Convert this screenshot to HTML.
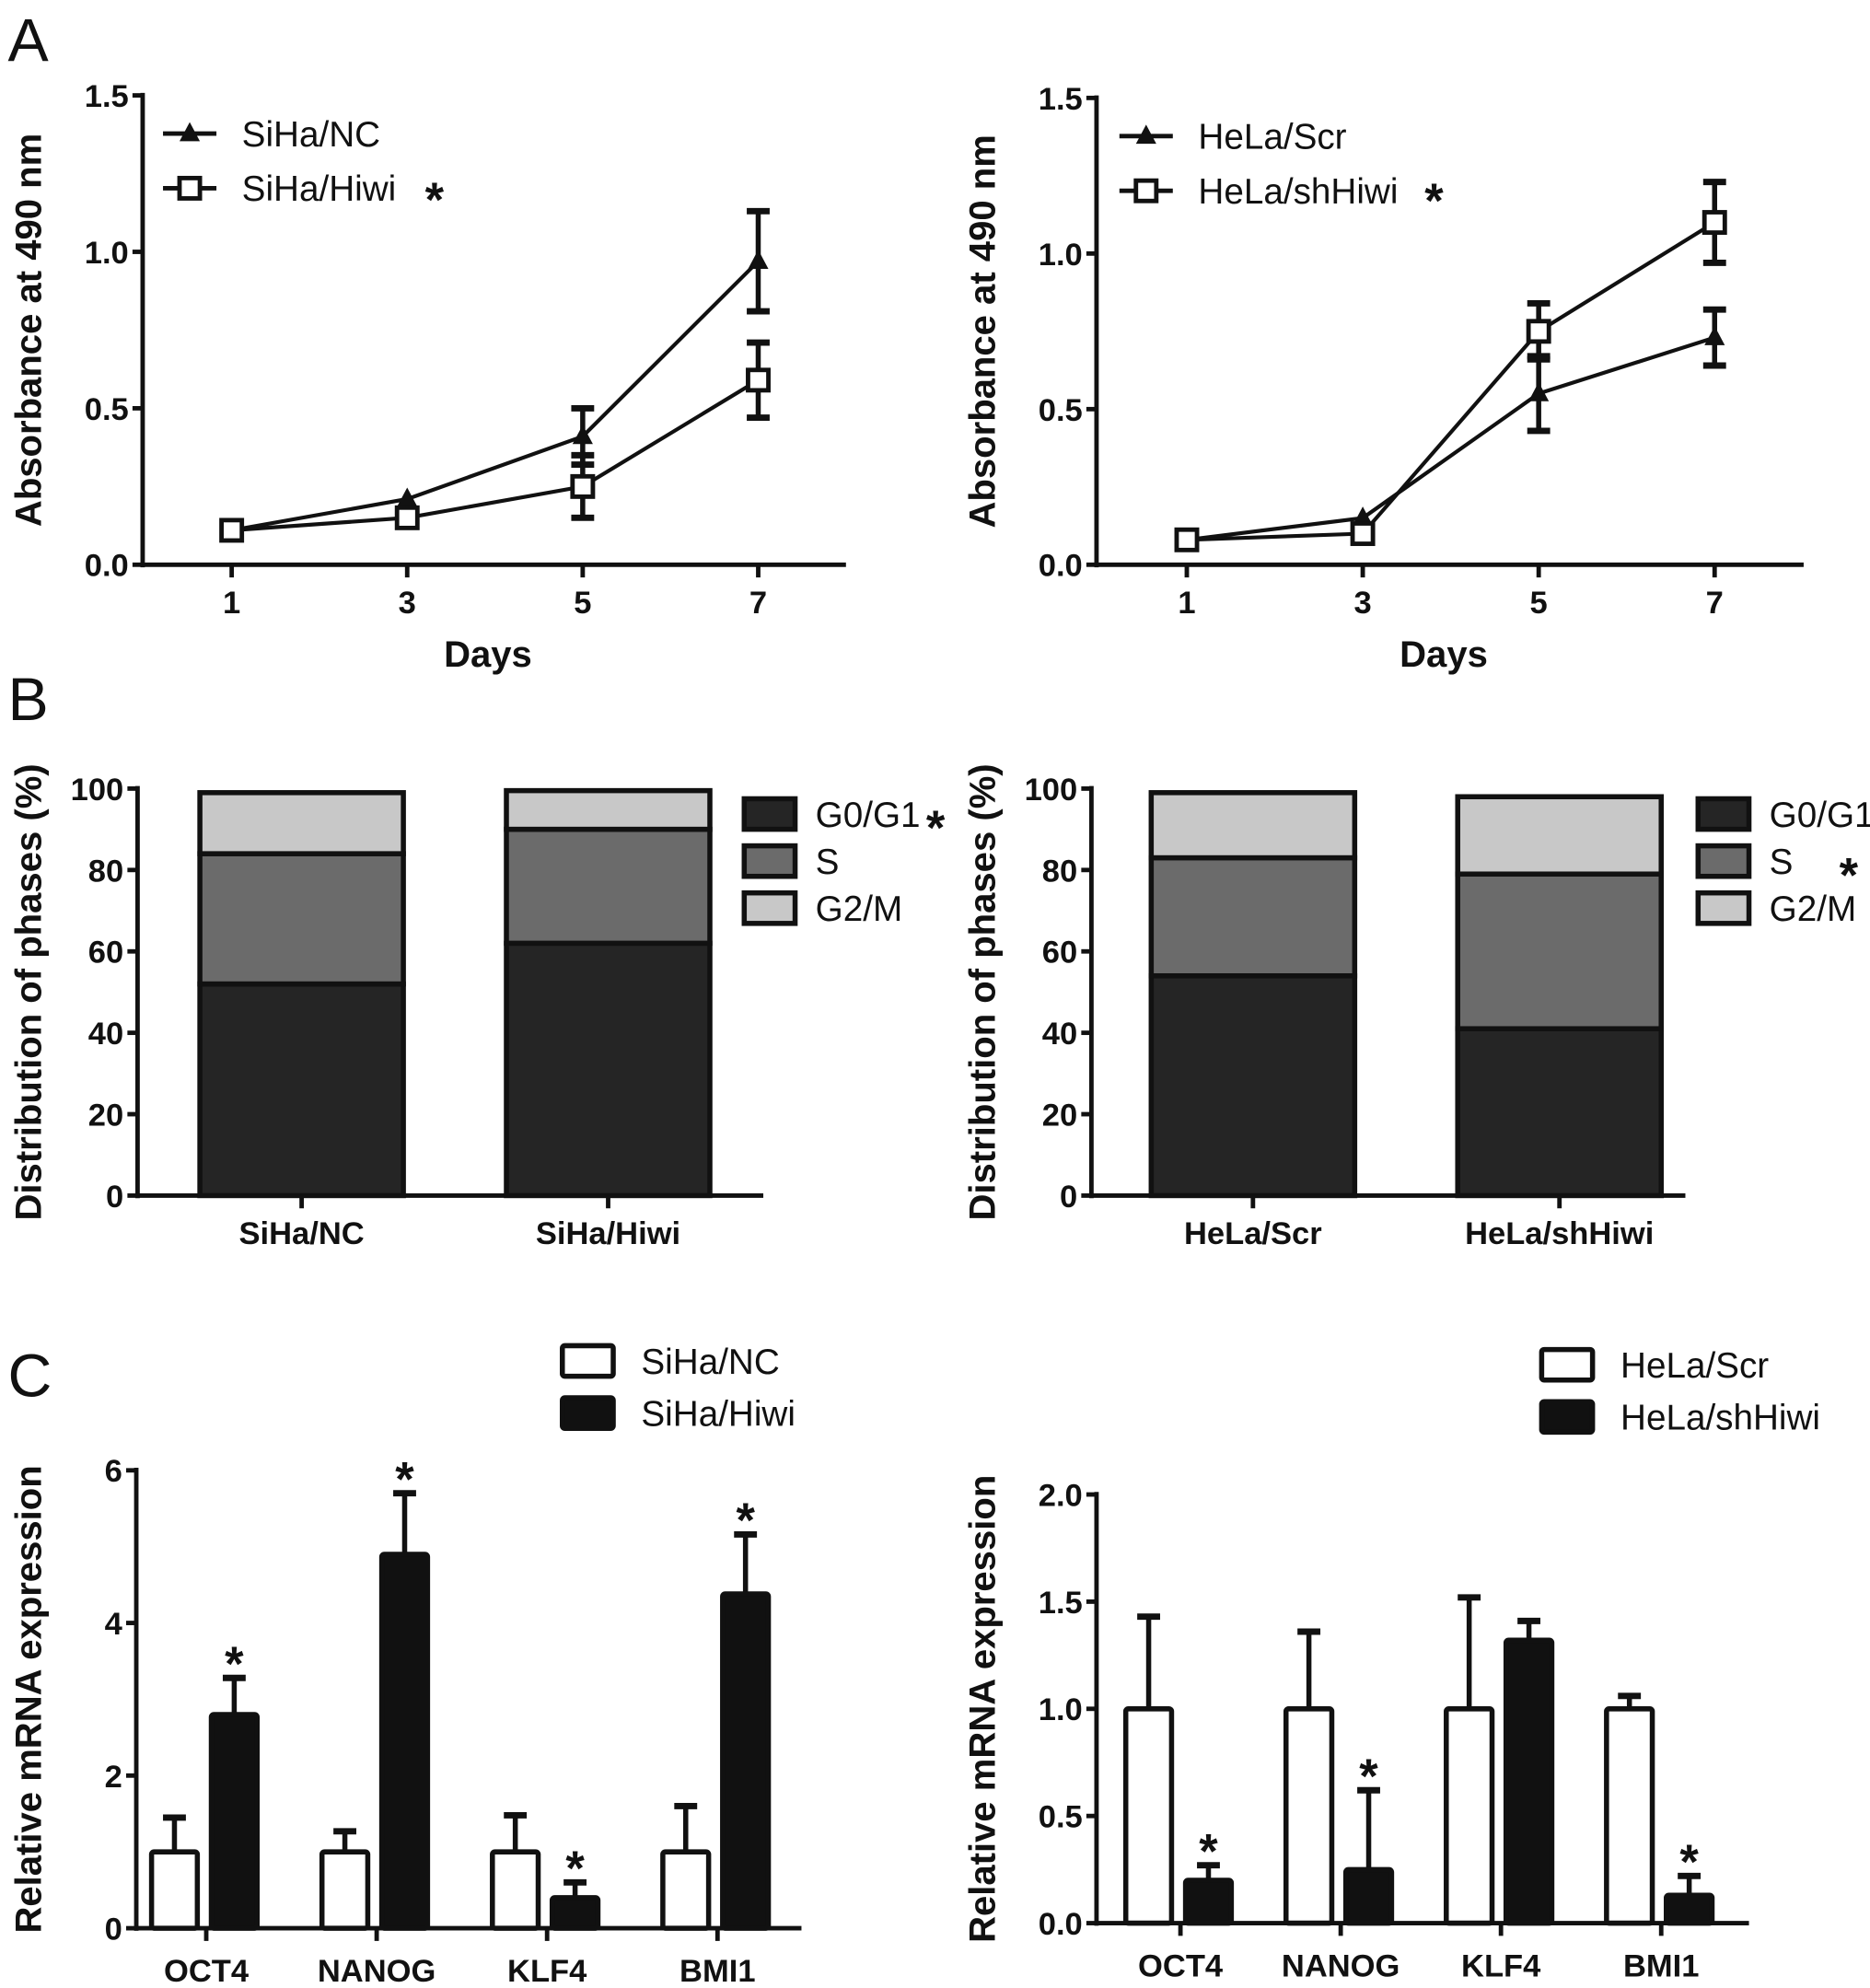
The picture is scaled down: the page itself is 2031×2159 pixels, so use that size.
<!DOCTYPE html>
<html><head><meta charset="utf-8"><style>
html,body{margin:0;padding:0;background:#fff}
svg{display:block}
text{font-family:"Liberation Sans",Arial,sans-serif;fill:#111}
.tk{font-size:25px;font-weight:bold}
.ti{font-size:29px;font-weight:bold}
.lg{font-size:28px}
.st{font-size:38px;font-weight:bold}
.pl{font-size:48px}
</style></head><body>
<svg id="fig" width="2031" height="2159" viewBox="0 0 1470 1563" xmlns="http://www.w3.org/2000/svg">
<text class="pl" x="6" y="48">A</text>
<text class="pl" x="6" y="566">B</text>
<text class="pl" x="6" y="1098">C</text>
</svg>
<script>
// Panel A data
const days=[1,3,5,7];
const sihaNC=[0.11,0.21,0.41,0.97], sihaNCerr=[0.01,0.01,0.09,0.16];
const sihaHiwi=[0.11,0.15,0.25,0.59], sihaHiwiErr=[0.01,0.01,0.10,0.12];
const helaScr=[0.08,0.15,0.55,0.73], helaScrErr=[0.01,0.01,0.12,0.09];
const helaSh=[0.08,0.10,0.75,1.10], helaShErr=[0.01,0.01,0.09,0.13];
const absTicks=["0.0","0.5","1.0","1.5"];
// Panel B data
const cellGroupsL=["SiHa/NC","SiHa/Hiwi"], cellGroupsR=["HeLa/Scr","HeLa/shHiwi"];
const g0L=[52,62], sL=[32,28], g2L=[15,9.5];
const g0R=[54,41], sR=[29,38], g2R=[16,19];
const pctTicks=["0","20","40","60","80","100"];
// Panel C data
const genes=["OCT4","NANOG","KLF4","BMI1"];
const ncVals=[1,1,1,1], ncErr=[0.45,0.27,0.48,0.6];
const hiwiVals=[2.8,4.9,0.4,4.38], hiwiErr=[0.48,0.8,0.2,0.78];
const scrVals=[1,1,1,1], scrErr=[0.43,0.36,0.52,0.06];
const shVals=[0.2,0.25,1.32,0.13], shErr=[0.07,0.37,0.09,0.09];
const mrnaTicksL=["0","2","4","6"], mrnaTicksR=["0.0","0.5","1.0","1.5","2.0"];

const svg=document.getElementById('fig');
const NS="http://www.w3.org/2000/svg";
function mk(tag,attrs,txt){const e=document.createElementNS(NS,tag);for(const k in attrs)e.setAttribute(k,attrs[k]);if(txt!==undefined)e.textContent=txt;svg.appendChild(e);return e;}
function line(x1,y1,x2,y2,w,name){const e=mk('line',{x1,y1,x2,y2,stroke:'#111','stroke-width':w||3.5});

return e;}
function txt(x,y,s,cls,anchor,name,rot){const a={x,y,class:cls,'text-anchor':anchor||'start'};if(rot)a.transform=rot;const e=mk('text',a,s);

return e;}

function yAxis(ax,y0,y1,ticks,max,title,tcx,prefix){
  line(ax,y0+2,ax,y1-2,3.5,prefix+'-y-axis');
  ticks.forEach((t,i)=>{const y=y0-(parseFloat(t)/max)*(y0-y1);line(ax-8,y,ax,y,3.5,prefix+'-y-tick');txt(ax-11,y+9,t,'tk','end',prefix+'-y-tick-label');});
  const cy=(y0+y1)/2;txt(tcx,cy,title,'ti','middle',prefix+'-y-axis-title','rotate(-90 '+tcx+' '+cy+')');
}

// ---------- Panel A ----------
function lineChart(p){
  const sy=v=>p.y0-v/1.5*(p.y0-p.y1);
  const sx=d=>p.x1+(d-1)/6*(p.x7-p.x1);
  yAxis(p.ax,p.y0,p.y1,absTicks,1.5,'Absorbance at 490 nm',p.tcx,p.pre);
  line(p.ax,p.y0,p.xe,p.y0,3.5,p.pre+'-x-axis');
  days.forEach(d=>{line(sx(d),p.y0,sx(d),p.y0+10,3.5,p.pre+'-x-tick');txt(sx(d),p.y0+38,String(d),'tk','middle',p.pre+'-x-tick-label');});
  txt((p.ax+p.xe)/2-5,p.y0+80,'Days','ti','middle',p.pre+'-x-axis-title');
  p.series.forEach((s,si)=>{
    const pts=days.map((d,i)=>sx(d)+','+sy(s.v[i])).join(' ');
    const pl=mk('polyline',{points:pts,fill:'none',stroke:'#111','stroke-width':3});
    
    
    days.forEach((d,i)=>{const x=sx(d),v=s.v[i],e=s.e[i];
      if(e>0.02){line(x,sy(v-e),x,sy(v+e),4,p.pre+'-errorbar');line(x-9,sy(v+e),x+9,sy(v+e),5,p.pre+'-errorcap');line(x-9,sy(v-e),x+9,sy(v-e),5,p.pre+'-errorcap');}
      marker(s.m,x,sy(v),p.pre+'-point-'+s.key);});
  });
  p.series.forEach((s,i)=>{const y=p.ly+i*43;line(p.lx,y,p.lx+42,y,3.5,p.pre+'-legend-line');marker(s.m,p.lx+21,y,p.pre+'-legend-marker');
    txt(p.lx+62,y+10,s.name,'lg','start',p.pre+'-legend-entry');});
  txt(p.star[0],p.star[1],'*','st','start',p.pre+'-significance-star');
}
function marker(m,x,y,name){let e;
  if(m==='tri')e=mk('polygon',{points:`${x},${y-9} ${x-8},${y+6} ${x+8},${y+6}`,fill:'#111'});
  else e=mk('rect',{x:x-8,y:y-8,width:16,height:16,fill:'#fff',stroke:'#111','stroke-width':3.5});
  
  }

lineChart({pre:'a-left',ax:112,y0:444,y1:75,x1:182,x7:596,xe:665,tcx:32,lx:128,ly:105,star:[334,170],
  series:[{key:'siha-nc',name:'SiHa/NC',v:sihaNC,e:sihaNCerr,m:'tri'},{key:'siha-hiwi',name:'SiHa/Hiwi',v:sihaHiwi,e:sihaHiwiErr,m:'sq'}]});
lineChart({pre:'a-right',ax:862,y0:444,y1:77,x1:933,x7:1348,xe:1418,tcx:782,lx:880,ly:107,star:[1120,171],
  series:[{key:'hela-scr',name:'HeLa/Scr',v:helaScr,e:helaScrErr,m:'tri'},{key:'hela-shhiwi',name:'HeLa/shHiwi',v:helaSh,e:helaShErr,m:'sq'}]});

// ---------- Panel B ----------
const phaseCols=['#252525','#6b6b6b','#c8c8c8'], phaseNames=['G0/G1','S','G2/M'];
function stackChart(p){
  const sy=v=>p.y0-v/100*(p.y0-p.y1);
  yAxis(p.ax,p.y0,p.y1,pctTicks,100,'Distribution of phases (%)',p.tcx,p.pre);
  line(p.ax,p.y0,p.xe,p.y0,3.5,p.pre+'-x-axis');
  p.groups.forEach((g,i)=>{const x=p.bx[i],w=160;let base=0;
    [p.g0,p.s,p.g2].forEach((arr,k)=>{const v=arr[i];const r=mk('rect',{x,y:sy(base+v),width:w,height:sy(base)-sy(base+v),fill:phaseCols[k],stroke:'#111','stroke-width':4});
      
      base+=v;});
    line(x+w/2,p.y0,x+w/2,p.y0+10,3.5,p.pre+'-x-tick');
    txt(x+w/2,p.y0+38,g,'tk','middle',p.pre+'-x-tick-label');});
  phaseNames.forEach((n,k)=>{const y=p.ly+k*37;const r=mk('rect',{x:p.lx,y:y-12,width:40,height:24,fill:phaseCols[k],stroke:'#111','stroke-width':4});
    
    
    txt(p.lx+56,y+10,n,'lg','start',p.pre+'-legend-entry');});
  txt(p.star[0],p.star[1],'*','st','start',p.pre+'-significance-star');
}
stackChart({pre:'b-left',ax:108,y0:940,y1:620,xe:600,tcx:32,bx:[157,398],groups:cellGroupsL,g0:g0L,s:sL,g2:g2L,lx:585,ly:640,star:[728,664]});
stackChart({pre:'b-right',ax:858,y0:940,y1:620,xe:1325,tcx:782,bx:[905,1146],groups:cellGroupsR,g0:g0R,s:sR,g2:g2R,lx:1335,ly:640,star:[1446,701]});

// ---------- Panel C ----------
function barChart(p){
  const sy=v=>p.y0-v/p.max*(p.y0-p.y1);
  yAxis(p.ax,p.y0,p.y1,p.ticks,p.max,'Relative mRNA expression',p.tcx,p.pre);
  line(p.ax,p.y0,p.xe,p.y0,3.5,p.pre+'-x-axis');
  genes.forEach((g,i)=>{const c=p.c0+i*p.step;
    [[p.a,p.ae,'#fff',c-43],[p.b,p.be,'#111',c+4]].forEach(([v,e,f,x],k)=>{
      const top=sy(v[i]+e[i]);
      line(x+18,sy(v[i]),x+18,top,4,p.pre+'-errorbar');line(x+9,top,x+27,top,5,p.pre+'-errorcap');
      const r=mk('rect',{x,y:sy(v[i]),width:36,height:p.y0-sy(v[i]),fill:f,stroke:'#111','stroke-width':4,rx:2});
      
      
      if(k===1&&p.stars[i])txt(x+18,top+2,'*','st','middle',p.pre+'-significance-star');});
    line(c,p.y0,c,p.y0+10,3.5,p.pre+'-x-tick');
    txt(c,p.y0+42,g,'tk','middle',p.pre+'-x-tick-label');});
  [p.na,p.nb].forEach((n,k)=>{const y=p.ly+k*41;const r=mk('rect',{x:p.lx,y:y-12,width:40,height:24,fill:k?'#111':'#fff',stroke:'#111','stroke-width':4,rx:2});
    
    
    txt(p.lx+62,y+10,n,'lg','start',p.pre+'-legend-entry');});
}
barChart({pre:'c-left',ax:107,y0:1516,y1:1156,max:6,ticks:mrnaTicksL,xe:630,tcx:32,c0:162,step:134,a:ncVals,ae:ncErr,b:hiwiVals,be:hiwiErr,stars:[1,1,1,1],lx:442,ly:1070,na:'SiHa/NC',nb:'SiHa/Hiwi'});
barChart({pre:'c-right',ax:862,y0:1512,y1:1175,max:2,ticks:mrnaTicksR,xe:1375,tcx:782,c0:928,step:126,a:scrVals,ae:scrErr,b:shVals,be:shErr,stars:[1,1,0,1],lx:1212,ly:1073,na:'HeLa/Scr',nb:'HeLa/shHiwi'});
</script>
</body></html>
